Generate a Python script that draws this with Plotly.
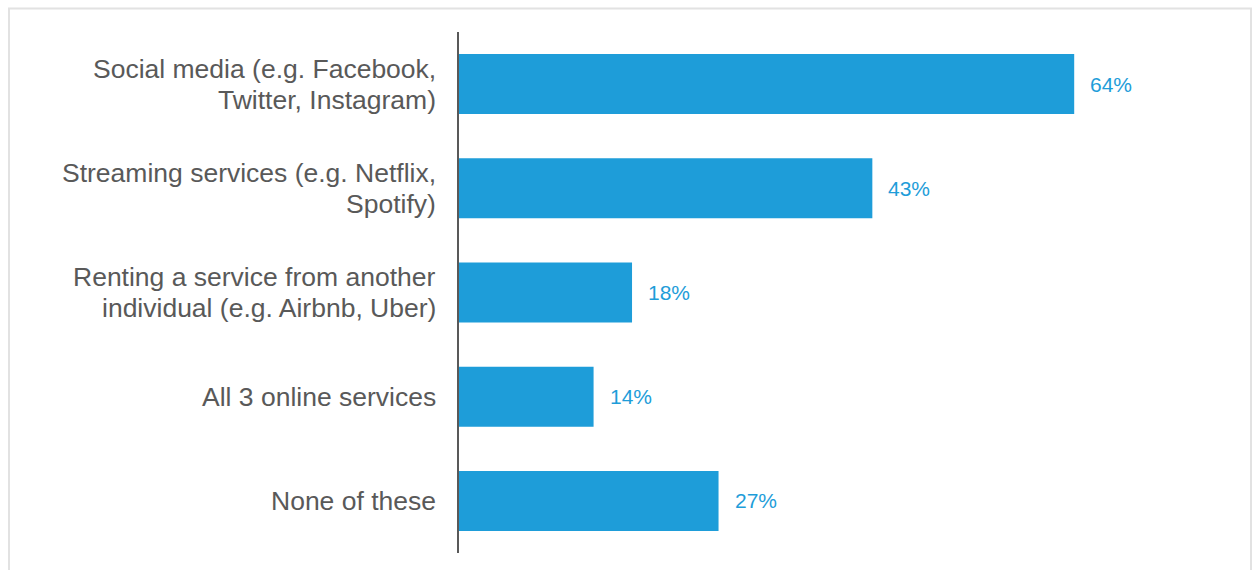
import plotly.graph_objects as go

# Share of respondents using each type of online service
categories = [
    "Social media (e.g. Facebook,<br>Twitter, Instagram)",
    "Streaming services (e.g. Netflix,<br>Spotify)",
    "Renting a service from another<br>individual (e.g. Airbnb, Uber)",
    "All 3 online services",
    "None of these",
]
values = [64, 43, 18, 14, 27]
value_labels = ["64%", "43%", "18%", "14%", "27%"]

BAR_COLOR = "#1E9DD9"
TEXT_GRAY = "#595959"
FONT = "Liberation Sans, Arial, sans-serif"
LINE_STEP = 31  # pixel spacing between lines of a category label

fig = go.Figure(
    go.Bar(
        x=values,
        y=categories,
        orientation="h",
        marker=dict(color=BAR_COLOR, line=dict(width=0)),
        hoverinfo="skip",
    )
)

# Category labels, one annotation per line for tighter line spacing
for cat in categories:
    lines = cat.split("<br>")
    n = len(lines)
    for i, line in enumerate(lines):
        fig.add_annotation(
            xref="paper", x=0, y=cat, text=line, showarrow=False,
            xanchor="right", yanchor="middle",
            xshift=-21, yshift=((n - 1) / 2 - i) * LINE_STEP,
            font=dict(family=FONT, size=26.5, color=TEXT_GRAY),
        )

# Percentage labels to the right of each bar
for cat, val, lab in zip(categories, values, value_labels):
    fig.add_annotation(
        x=val, y=cat, text=lab, showarrow=False,
        xanchor="left", yanchor="middle", xshift=14,
        font=dict(family=FONT, size=21, color=BAR_COLOR),
    )

# Light frame around the whole chart
fig.add_shape(
    type="rect", xref="paper", yref="paper",
    x0=-0.5852, x1=1.0299, y0=-0.2, y1=1.0451,
    line=dict(color="#E2E2E2", width=2), fillcolor="rgba(0,0,0,0)", layer="below",
)

fig.update_layout(
    width=1252, height=570,
    margin=dict(l=459, r=24, t=32, b=17),
    paper_bgcolor="white", plot_bgcolor="white",
    bargap=0.424,
    showlegend=False,
    font=dict(family=FONT, color=TEXT_GRAY),
    xaxis=dict(range=[0, 80], visible=False, fixedrange=True),
    yaxis=dict(
        autorange="reversed",
        showline=True, linecolor=TEXT_GRAY, linewidth=2,
        showgrid=False, zeroline=False, ticks="",
        showticklabels=False,
        fixedrange=True,
    ),
)

fig.write_html("out.html")
